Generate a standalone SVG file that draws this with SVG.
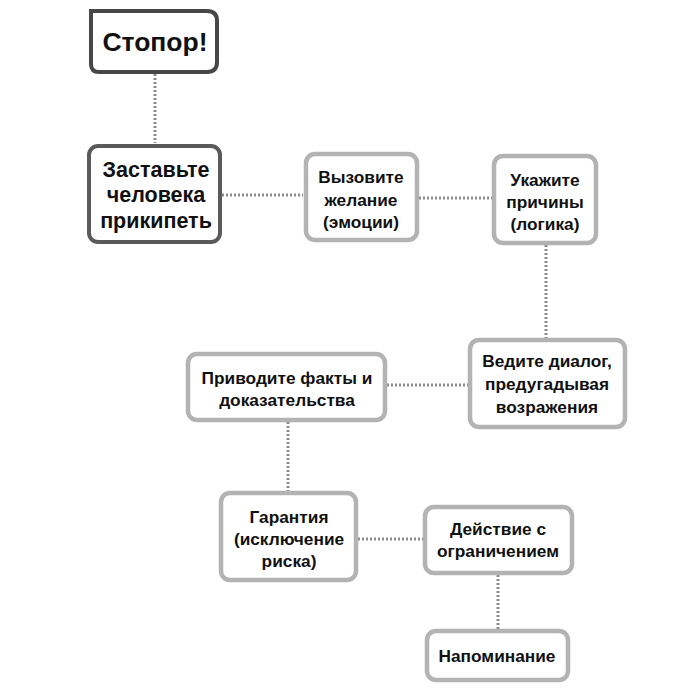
<svg xmlns="http://www.w3.org/2000/svg" width="700" height="700" viewBox="0 0 700 700">
<style>
.bg{fill:#fff}
.dark{fill:#fff;stroke:#474747;stroke-width:4}
.mid{fill:#fff;stroke:#5a5a5a;stroke-width:4}
.light{fill:#fff;stroke:#b3b3b3;stroke-width:4.5}
.t{font-family:"Liberation Sans",Arial,sans-serif;font-weight:bold;fill:#111;text-anchor:middle}
.s16{font-size:17.3px}
.s19{font-size:21.5px}
.s26{font-size:26.5px}
.c{stroke:#8c8c8c;stroke-width:3;stroke-dasharray:2 2;fill:none}
</style>
<rect class="bg" width="700" height="700"/>
<g id="connectors">
<line class="c" x1="155" y1="74" x2="155" y2="143"/>
<line class="c" x1="222" y1="195" x2="303" y2="195"/>
<line class="c" x1="419" y1="198" x2="492" y2="198"/>
<line class="c" x1="546" y1="245" x2="546" y2="338"/>
<line class="c" x1="387" y1="385" x2="468" y2="385"/>
<line class="c" x1="288" y1="422" x2="288" y2="491"/>
<line class="c" x1="358" y1="539" x2="423" y2="539"/>
<line class="c" x1="498" y1="575" x2="498" y2="629"/>
</g>
<g id="n1">
<path class="dark" d="M91,11 H207 Q217,11 217,21 V62 Q217,72 207,72 H99 Q91,72 91,64 Z"/>
<text class="t s26" x="155" y="51">Стопор!</text>
</g>
<g id="n2">
<rect class="mid" x="89" y="146" width="131" height="96" rx="9"/>
<text class="t s19" x="156" y="177">Заставьте</text>
<text class="t s19" x="156" y="202">человека</text>
<text class="t s19" x="156" y="228">прикипеть</text>
</g>
<g id="n3">
<rect class="light" x="306" y="154" width="111" height="86" rx="9"/>
<text class="t s16" x="361" y="183">Вызовите</text>
<text class="t s16" x="361" y="206">желание</text>
<text class="t s16" x="361" y="228">(эмоции)</text>
</g>
<g id="n4">
<rect class="light" x="494" y="156" width="102" height="87" rx="9"/>
<text class="t s16" x="545" y="186">Укажите</text>
<text class="t s16" x="545" y="208">причины</text>
<text class="t s16" x="545" y="230">(логика)</text>
</g>
<g id="n5">
<rect class="light" x="470" y="340" width="155" height="87" rx="9"/>
<text class="t s16" x="547" y="367">Ведите диалог,</text>
<text class="t s16" x="547" y="390">предугадывая</text>
<text class="t s16" x="547" y="413">возражения</text>
</g>
<g id="n6">
<rect class="light" x="188" y="354" width="197" height="66" rx="9"/>
<text class="t s16" x="287" y="384">Приводите факты и</text>
<text class="t s16" x="287" y="406">доказательства</text>
</g>
<g id="n7">
<rect class="light" x="221" y="493" width="135" height="87" rx="9"/>
<text class="t s16" x="289" y="523">Гарантия</text>
<text class="t s16" x="289" y="545">(исключение</text>
<text class="t s16" x="289" y="567">риска)</text>
</g>
<g id="n8">
<rect class="light" x="425" y="507" width="147" height="66" rx="9"/>
<text class="t s16" x="498" y="535">Действие с</text>
<text class="t s16" x="498" y="557">ограничением</text>
</g>
<g id="n9">
<rect class="light" x="427" y="631" width="141" height="49" rx="9"/>
<text class="t s16" x="497" y="662">Напоминание</text>
</g>
</svg>
